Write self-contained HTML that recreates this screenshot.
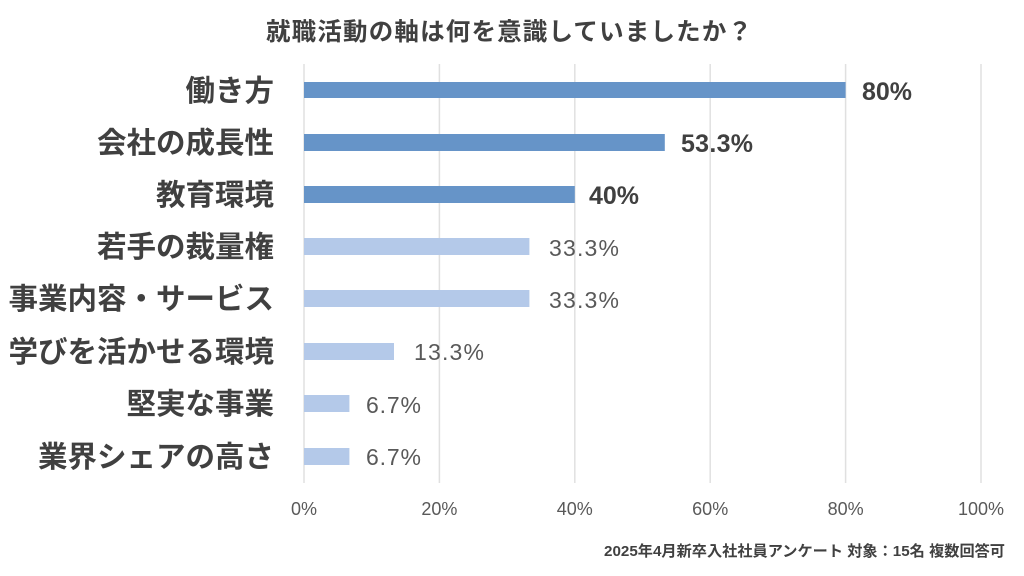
<!DOCTYPE html>
<html><head><meta charset="utf-8"><style>
body{margin:0;background:#fff;}
svg{display:block;font-family:"Liberation Sans","Noto Sans CJK JP",sans-serif;}
</style></head><body>
<svg width="1024" height="576" viewBox="0 0 1024 576" xmlns="http://www.w3.org/2000/svg">
<rect width="1024" height="576" fill="#fff"/>
<text x="266" y="40" textLength="486" lengthAdjust="spacing" font-size="24.5" font-weight="bold" fill="#404040">就職活動の軸は何を意識していましたか？</text>
<g stroke="#e0e0e0" stroke-width="1.5">
<line x1="304" y1="64" x2="304" y2="483"/>
<line x1="439.4" y1="64" x2="439.4" y2="483"/>
<line x1="574.8" y1="64" x2="574.8" y2="483"/>
<line x1="710.2" y1="64" x2="710.2" y2="483"/>
<line x1="845.6" y1="64" x2="845.6" y2="483"/>
<line x1="981" y1="64" x2="981" y2="483"/>
</g>
<g font-size="18" fill="#595959" text-anchor="middle">
<text x="304" y="515">0%</text><text x="439.4" y="515">20%</text><text x="574.8" y="515">40%</text>
<text x="710.2" y="515">60%</text><text x="845.6" y="515">80%</text><text x="981" y="515">100%</text>
</g>
<g>
<rect x="304" y="82" width="541.6" height="16" fill="#6694c8"/>
<rect x="304" y="134" width="360.8" height="17" fill="#6694c8"/>
<rect x="304" y="186" width="270.8" height="17" fill="#6694c8"/>
<rect x="304" y="238" width="225.4" height="17" fill="#b4c9e9"/>
<rect x="304" y="290" width="225.4" height="17" fill="#b4c9e9"/>
<rect x="304" y="343" width="90" height="17" fill="#b4c9e9"/>
<rect x="304" y="395" width="45.4" height="17" fill="#b4c9e9"/>
<rect x="304" y="448" width="45.4" height="17" fill="#b4c9e9"/>
</g>
<g font-size="25" font-weight="bold" fill="#404040">
<text x="862" y="100" textLength="50">80%</text><text x="681" y="152" textLength="72">53.3%</text><text x="589" y="204" textLength="50">40%</text>
</g>
<g font-size="23" fill="#595959">
<text x="549" y="256" textLength="70">33.3%</text><text x="549" y="308" textLength="70">33.3%</text><text x="414" y="360" textLength="70">13.3%</text>
<text x="366" y="413" textLength="55">6.7%</text><text x="366" y="465" textLength="55">6.7%</text>
</g>
<g font-size="29.5" font-weight="bold" fill="#404040" text-anchor="end">
<text x="274" y="101">働き方</text>
<text x="274" y="153">会社の成長性</text>
<text x="274" y="205">教育環境</text>
<text x="274" y="257">若手の裁量権</text>
<text x="274" y="309">事業内容・サービス</text>
<text x="274" y="362">学びを活かせる環境</text>
<text x="274" y="414">堅実な事業</text>
<text x="274" y="467">業界シェアの高さ</text>
</g>
<text x="604" y="556" textLength="401" lengthAdjust="spacingAndGlyphs" font-size="15" font-weight="bold" fill="#404040">2025年4月新卒入社社員アンケート  対象：15名 複数回答可</text>
</svg>
</body></html>
